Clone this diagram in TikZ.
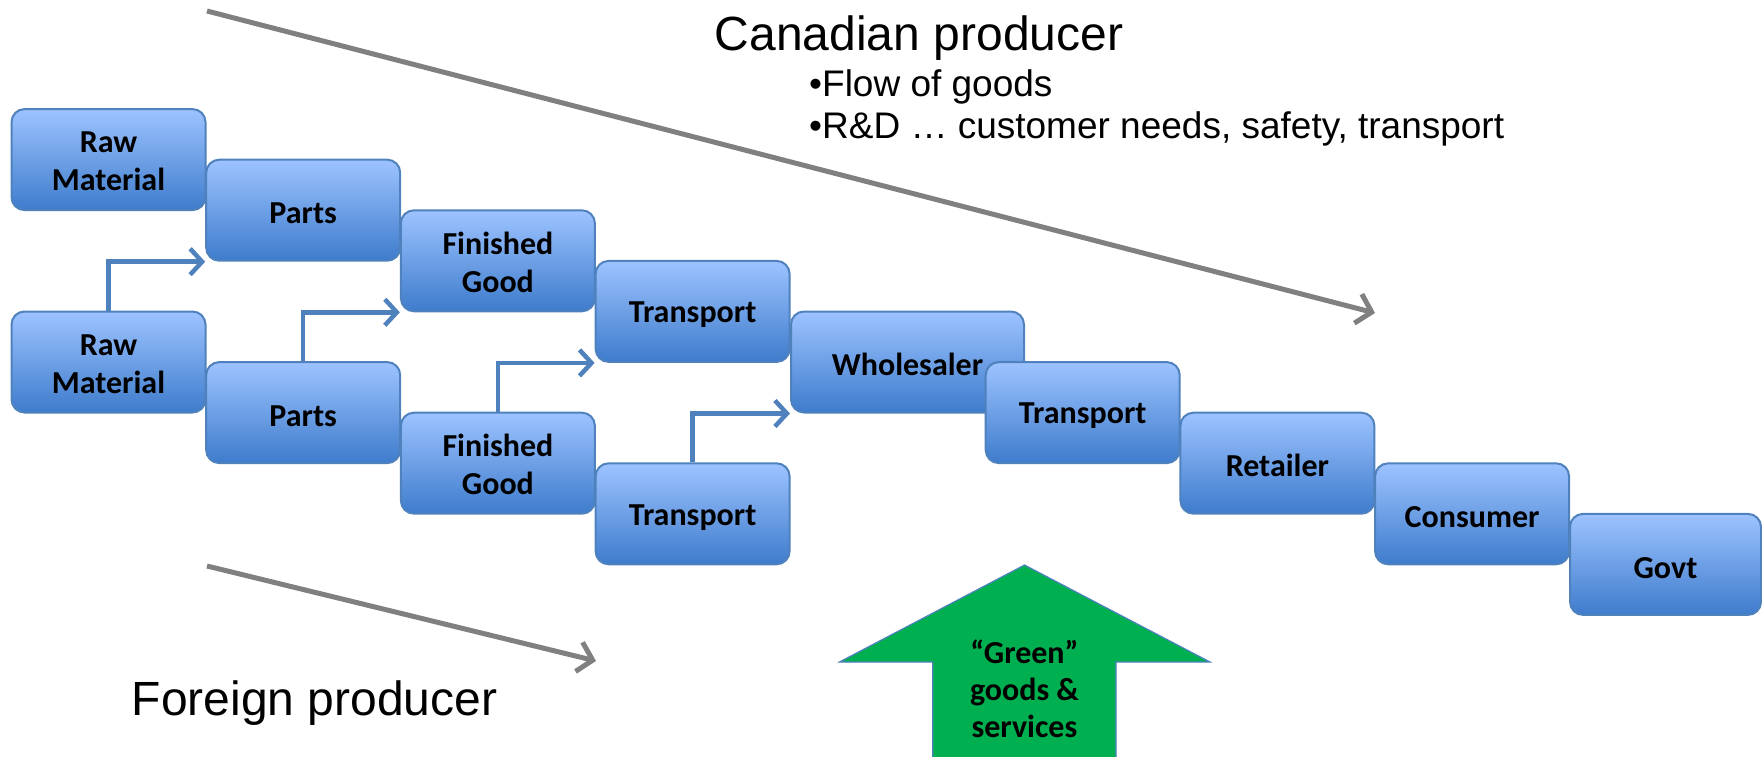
\documentclass[tikz,border=0pt]{standalone}
\usepackage{fontspec}
\setmainfont{Carlito}
\newfontfamily\headfont{Liberation Sans}
\usetikzlibrary{arrows.meta}

\definecolor{boxtop}{RGB}{157,195,255}
\definecolor{boxbottom}{RGB}{62,124,204}
\definecolor{boxline}{RGB}{79,129,189}
\definecolor{flowgray}{RGB}{128,128,128}
\definecolor{greenfill}{RGB}{0,176,80}

\begin{document}
\begin{tikzpicture}[x=1pt, y=-1pt,
    stage/.style={rectangle, rounded corners=13pt, draw=boxline, line width=2pt,
      top color=boxtop, bottom color=boxbottom, minimum width=194pt, minimum height=101pt,
      inner sep=0pt, text height=27.5pt, align=center, font=\fontsize{32}{38}\selectfont\bfseries},
    twoline/.style={text height=63pt},
    feed/.style={draw=boxline, line width=4.5pt, -{Straight Barb[length=12pt,width=26pt]}},
    trend/.style={draw=flowgray, line width=5pt, -{Straight Barb[length=14pt,width=30pt]}},
    caption/.style={anchor=base west, inner sep=0pt}]
  \useasboundingbox (0, 0) rectangle (1762, 757);

  % upper chain
  \node[stage, twoline] (raw1) at (108.5, 159.6) {Raw\\Material};
  \node[stage] (parts1) at (303.2, 210.2) {Parts};
  \node[stage, twoline] (good1) at (497.9, 260.8) {Finished\\Good};
  \node[stage] (trans1) at (692.6, 311.4) {Transport};
  \node[stage, minimum width=233pt] (whole) at (907.5, 362) {Wholesaler};
  \node[stage] (trans3) at (1082.7, 412.6) {Transport};
  \node[stage] (retail) at (1277.4, 463.2) {Retailer};
  \node[stage] (consumer) at (1472.1, 513.8) {Consumer};
  \node[stage, minimum width=191pt] (govt) at (1665.5, 564.4) {Govt};

  % lower chain
  \node[stage, twoline] (raw2) at (108.5, 362) {Raw\\Material};
  \node[stage] (parts2) at (303.2, 412.6) {Parts};
  \node[stage, twoline] (good2) at (497.9, 463.2) {Finished\\Good};
  \node[stage] (trans2) at (692.6, 513.8) {Transport};

  \draw[feed] (raw2.north) |- (parts1.south west);
  \draw[feed] (parts2.north) |- (good1.south west);
  \draw[feed] (good2.north) |- (trans1.south west);
  \draw[feed] (trans2.north) |- (whole.south west);

  % producers
  \coordinate (canTail) at (207, 11);
  \coordinate (canHead) at (1375, 313);
  \coordinate (forTail) at (207, 566);
  \coordinate (forHead) at (596, 661);
  \draw[trend] (canTail) -- (canHead);
  \draw[trend] (forTail) -- (forHead);

  \node[caption, font=\headfont\fontsize{48}{58}\selectfont] (canada) at (714.7, 51) {Canadian producer};
  \node[caption, font=\headfont\fontsize{37}{44}\selectfont] (flow) at (809, 97) {•Flow of goods};
  \node[caption, font=\headfont\fontsize{37}{44}\selectfont] (rnd) at (809, 139) {•R\&D … customer needs, safety, transport};
  \node[caption, font=\headfont\fontsize{48}{58}\selectfont] (foreign) at (131.5, 715) {Foreign producer};

  % green arrow
  \filldraw[fill=greenfill, draw=boxline, line width=1.2pt] (932.7, 770) -- (932.7, 662) -- (839.5, 662)
    -- (1024.5, 565) -- (1210, 662) -- (1116, 662) -- (1116, 770) -- cycle;
  \node[align=center, inner sep=0pt, font=\fontsize{32}{37}\selectfont\bfseries] (green) at (1024.5, 689)
    {“Green”\\goods \&\\services};
\end{tikzpicture}
\end{document}
